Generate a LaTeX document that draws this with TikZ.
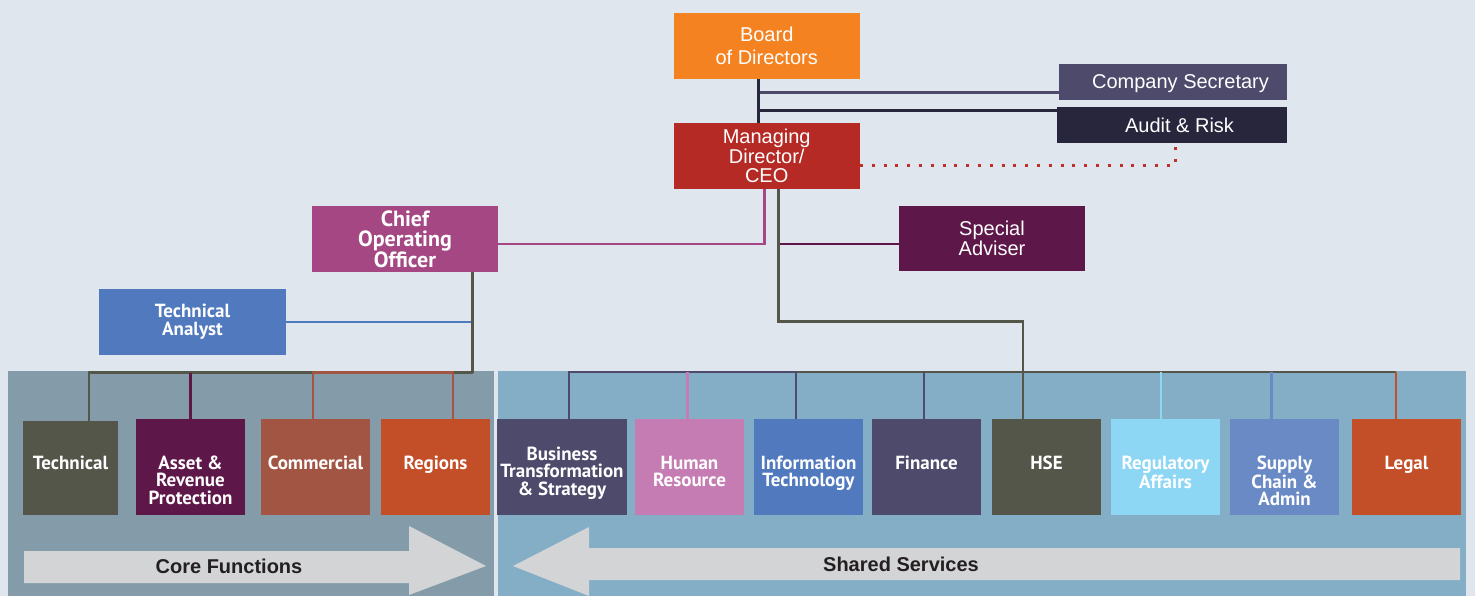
\documentclass[tikz,border=0pt]{standalone}
\usepackage{fontspec}
\setmainfont{Liberation Sans}
\newfontfamily\humfont{PT Sans}
\usepackage{tikz}
\usetikzlibrary{positioning}
\usetikzlibrary{calc}

\definecolor{bgcol}{HTML}{DFE6ED}
\definecolor{corepanel}{HTML}{849CAA}
\definecolor{sharedpanel}{HTML}{84ADC6}
\definecolor{boardcol}{HTML}{F58220}
\definecolor{seccol}{HTML}{4D4A6B}
\definecolor{auditcol}{HTML}{28263D}
\definecolor{ceocol}{HTML}{B52A24}
\definecolor{coocol}{HTML}{A44783}
\definecolor{plumcol}{HTML}{5E1749}
\definecolor{bluecol}{HTML}{5079BE}
\definecolor{olivecol}{HTML}{55564A}
\definecolor{rustcol}{HTML}{A35543}
\definecolor{orangecol}{HTML}{C24F28}
\definecolor{pinkcol}{HTML}{C57CB2}
\definecolor{skycol}{HTML}{8DD7F5}
\definecolor{steelcol}{HTML}{6A8AC6}
\definecolor{arrowcol}{HTML}{D3D4D6}
\definecolor{inkcol}{HTML}{231F20}
\definecolor{dotcol}{HTML}{C0302A}

\tikzset{
  orgbox/.style={fill=#1, text=white, inner sep=0pt, align=center,
    minimum width=186pt, minimum height=66pt,
    font=\fontsize{20}{23.6}\selectfont},
  unitbox/.style={fill=#1, inner sep=0pt, minimum width=109pt, minimum height=96pt},
  unitlbl/.style={text=white, inner sep=0pt, align=center,
    font=\humfont\bfseries\fontsize{19}{17.3}\selectfont},
  link/.style={draw=#1, line width=2.8pt},
  flowlbl/.style={text=inkcol, inner sep=0pt, font=\bfseries\fontsize{20}{24}\selectfont},
}

\begin{document}
\begin{tikzpicture}[x=1pt,y=-1pt]
    \fill[bgcol] (0,0) rectangle (1475,596);
    \fill[corepanel] (8,371) rectangle (494,596);
    \fill[sharedpanel] (498,371) rectangle (1466,596);

    % flow arrows
    \fill[arrowcol] (24,551) -- (409,551) -- (409,526) -- (486,566) -- (409,595)
        -- (409,583) -- (24,583) -- cycle;
    \fill[arrowcol] (1460,548) -- (589,548) -- (589,527) -- (513,566) -- (589,596)
        -- (589,580) -- (1460,580) -- cycle;
    \node[flowlbl] (core) at (229,566.7) {Core Functions};
    \node[flowlbl] (shared) at (901,564.4) {Shared Services};

    % top
    \node[orgbox=boardcol] (board) at (766.7,46) {Board\\of Directors};
    \node[orgbox=ceocol, font=\fontsize{20}{19.7}\selectfont] (md) at (766.7,156) {Managing\\Director/\\CEO};
    \node[orgbox=seccol, minimum width=228pt, minimum height=36pt, text depth=0pt] (sec) at (1173,82) {\hspace*{15pt}Company Secretary};
    \node[orgbox=auditcol, minimum width=230pt, minimum height=36pt, text depth=0pt] (audit) at (1172,125) {\hspace*{15pt}Audit \& Risk};
    \node[orgbox=coocol, font=\humfont\bfseries\fontsize{22}{20}\selectfont] (coo) at (405,239) {Chief\\Operating\\Officer};
    \node[orgbox=plumcol, minimum height=65pt, font=\fontsize{20}{18.5}\selectfont] (sa) at (992,238.5) {Special\\Adviser};
    \node[orgbox=bluecol, minimum width=187pt, font=\humfont\bfseries\fontsize{19}{18}\selectfont] (ta) at (192.5,322) {Technical\\Analyst};

    \draw[link=seccol] ([yshift=8pt]sec.south west) -- ([xshift=-8pt,yshift=8pt]board.south |- sec.south west);
    \draw[link=auditcol] ([yshift=-4pt]audit.north west) -- ([xshift=-8pt,yshift=-4pt]board.south |- audit.north west);
    \draw[link=auditcol] ([xshift=-8pt]board.south) -- ([xshift=-8pt]md.north);
    \draw[link=dotcol, line width=3pt, dash pattern=on 3pt off 8.8pt] ([yshift=-9.7pt]md.east) -| ([xshift=3pt]audit.south);
    \draw[link=coocol] ([yshift=-5pt]coo.east) -| ([xshift=-2pt]md.south);
    \draw[link=plumcol] ([yshift=-5.5pt]sa.west) -- ([xshift=12pt,yshift=-5.5pt]md.south |- sa.west);

    % core functions
    \node[unitbox=olivecol, minimum width=95pt, minimum height=94pt] (tech) at (70.5,468) {};
    \node[unitbox=plumcol] (asset) at (190.5,467) {};
    \node[unitbox=rustcol] (com) at (315.5,467) {};
    \node[unitbox=orangecol] (reg) at (435.5,467) {};
    \node[unitlbl, below=35pt of tech.north] (tech-l) {Technical};
    \node[unitlbl, below=37pt of asset.north] (asset-l) {Asset \&\\Revenue\\Protection};
    \node[unitlbl, below=37pt of com.north] (com-l) {Commercial};
    \node[unitlbl, below=37pt of reg.north] (reg-l) {Regions};

    \coordinate (cbus) at (472.5,372.7);
    \draw[link=bluecol] (ta.east) -- ([xshift=67.5pt]coo.south |- ta.east);
    \draw[link=olivecol] ([xshift=67.5pt]coo.south) -- (cbus);
    \draw[link=olivecol] ([xshift=18.5pt]tech.north) |- (cbus);
    \draw[link=plumcol] (asset.north) -- (asset.north |- cbus);
    \draw[link=rustcol] ([xshift=-2.5pt]com.north) |- ([xshift=17.5pt]reg.north |- cbus) -- ([xshift=17.5pt]reg.north);

    % shared services
    \node[unitbox=seccol, minimum width=130pt] (bts) at (562,467) {};
    \node[unitbox=pinkcol] (hr) at (689.5,467) {};
    \node[unitbox=bluecol] (it) at (808.5,467) {};
    \node[unitbox=seccol] (fin) at (926.5,467) {};
    \node[unitbox=olivecol] (hse) at (1046.5,467) {};
    \node[unitbox=skycol] (rega) at (1165.5,467) {};
    \node[unitbox=steelcol] (sup) at (1284.5,467) {};
    \node[unitbox=orangecol] (legal) at (1406.5,467) {};
    \node[unitlbl, below=28pt of bts.north] (bts-l) {Business\\Transformation\\\& Strategy};
    \node[unitlbl, below=37pt of hr.north] (hr-l) {Human\\Resource};
    \node[unitlbl, below=37pt of it.north] (it-l) {Information\\Technology};
    \node[unitlbl, below=37pt of fin.north] (fin-l) {Finance};
    \node[unitlbl, below=37pt of hse.north] (hse-l) {HSE};
    \node[unitlbl, below=37pt of rega.north] (rega-l) {Regulatory\\Affairs};
    \node[unitlbl, below=37pt of sup.north] (sup-l) {Supply\\Chain \&\\Admin};
    \node[unitlbl, below=37pt of legal.north] (legal-l) {Legal};

    \coordinate (sbus) at (0,372);
    \coordinate (hsebend) at (0,321.7);
    \draw[link=olivecol] ([xshift=-12.5pt]it.north |- sbus) -- ([xshift=-10.5pt]legal.north |- sbus);
    \draw[link=olivecol] ([xshift=12pt]md.south) |- ([xshift=-23.5pt]hse.north |- hsebend) -- ([xshift=-23.5pt]hse.north);
    \draw[link=seccol] ([xshift=7pt]bts.north) |- ([xshift=-12.5pt]it.north |- sbus) -- ([xshift=-12.5pt]it.north);
    \draw[link=pinkcol] ([xshift=-1.8pt]hr.north) -- ([xshift=-1.8pt]hr.north |- sbus);
    \draw[link=seccol] ([xshift=-2.5pt]fin.north) -- ([xshift=-2.5pt]fin.north |- sbus);
    \draw[link=skycol] ([xshift=-4.5pt]rega.north) -- ([xshift=-4.5pt]rega.north |- sbus);
    \draw[link=steelcol] ([xshift=-12.8pt]sup.north) -- ([xshift=-12.8pt]sup.north |- sbus);
    \draw[link=orangecol] ([xshift=-10.5pt]legal.north) -- ([xshift=-10.5pt]legal.north |- sbus);
\end{tikzpicture}
\end{document}
